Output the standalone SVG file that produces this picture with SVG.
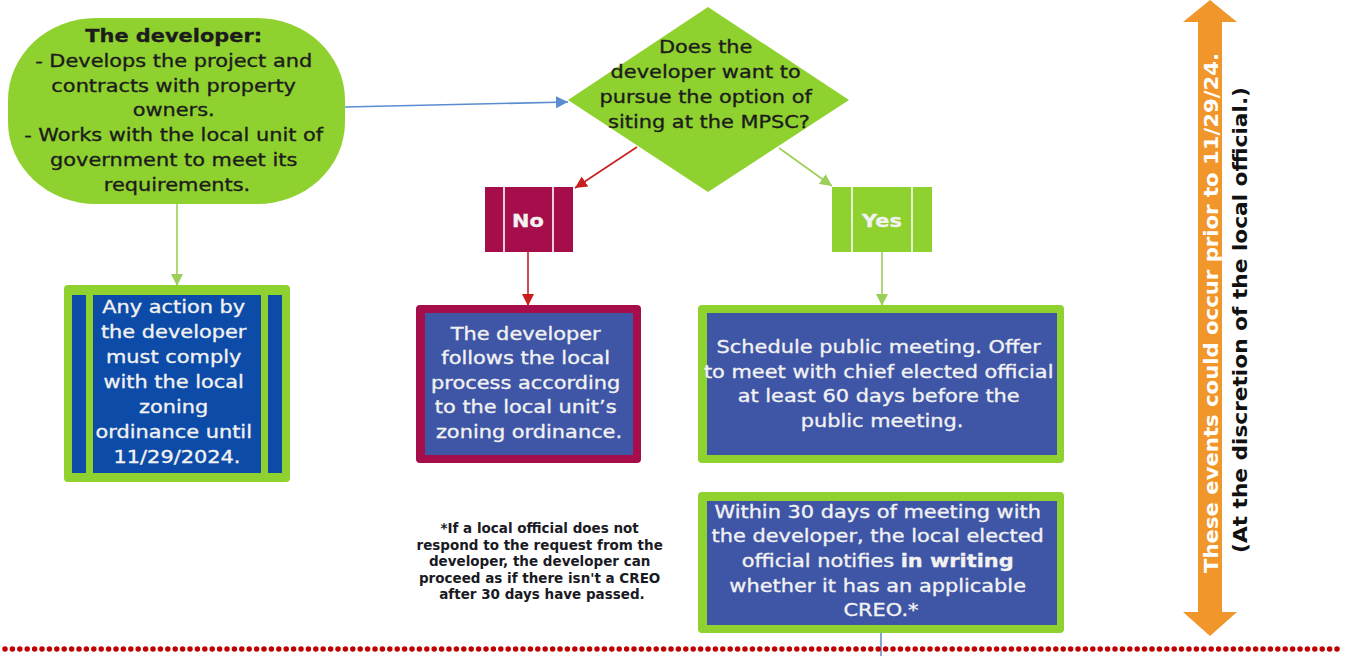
<svg xmlns="http://www.w3.org/2000/svg" width="1345" height="656" viewBox="0 0 1345 656">
  <style>
    .lime { fill: #8fd12e; }
    .blue { fill: #3f56a6; }
    .deep { fill: #0c4ba7; }
    .crim { fill: #a60e4b; }
    .txt { font-family: "DejaVu Sans", Verdana, sans-serif; font-size: 18.5px; text-anchor: middle; stroke-width: 0.35px; }
    .dark { fill: #1c1c1c; stroke: #1c1c1c; }
    .light { fill: #f2f2f2; stroke: #f2f2f2; }
    .b { font-weight: bold; }
    .note { font-family: "DejaVu Sans", Tahoma, sans-serif; font-size: 13.5px; font-weight: bold; text-anchor: middle; fill: #1a1a24; }
    .stripe { stroke: #ffffff; stroke-width: 1.6; }
    .conn { fill: none; stroke-width: 1.6; }
  </style>
  <defs>
    <marker id="ahBlue" markerUnits="userSpaceOnUse" markerWidth="12" markerHeight="12" refX="12" refY="6" orient="auto">
      <path d="M0,0 L12,6 L0,12 z" fill="#5a8cd0"/>
    </marker>
    <marker id="ahRed" markerUnits="userSpaceOnUse" markerWidth="12" markerHeight="12" refX="12" refY="6" orient="auto">
      <path d="M0,0 L12,6 L0,12 z" fill="#c81e1e"/>
    </marker>
    <marker id="ahGreen" markerUnits="userSpaceOnUse" markerWidth="12" markerHeight="12" refX="12" refY="6" orient="auto">
      <path d="M0,0 L12,6 L0,12 z" fill="#9ccf5a"/>
    </marker>
  </defs>

  <rect width="1345" height="656" fill="#ffffff"/>

  <!-- connectors -->
  <g id="connectors">
    <line class="conn" x1="345" y1="107" x2="568" y2="102" stroke="#5a8cd0" marker-end="url(#ahBlue)"/>
    <line class="conn" x1="177" y1="204" x2="177" y2="286" stroke="#9ccf5a" marker-end="url(#ahGreen)"/>
    <line class="conn" x1="637" y1="147" x2="575" y2="188" stroke="#c81e1e" marker-end="url(#ahRed)"/>
    <line class="conn" x1="779" y1="148" x2="832" y2="186" stroke="#9ccf5a" marker-end="url(#ahGreen)"/>
    <line class="conn" x1="528" y1="252" x2="528" y2="306" stroke="#c81e1e" marker-end="url(#ahRed)"/>
    <line class="conn" x1="882" y1="252" x2="882" y2="306" stroke="#9ccf5a" marker-end="url(#ahGreen)"/>
    <line class="conn" x1="881" y1="633" x2="881" y2="656" stroke="#6c8ebf" stroke-width="1.2"/>
  </g>

  <!-- developer start node -->
  <g id="developer">
    <rect class="lime" x="8" y="18" width="337" height="186" rx="88" ry="82"/>
    <text class="txt dark" transform="translate(177 0) scale(1.13 1)">
      <tspan class="b" x="0" y="42">The developer:</tspan>
      <tspan x="0" y="66.8">- Develops the project and</tspan>
      <tspan x="0" y="91.6">contracts with property</tspan>
      <tspan x="0" y="116.4">owners.</tspan>
      <tspan x="0" y="141.2">- Works with the local unit of</tspan>
      <tspan x="0" y="166">government to meet its</tspan>
      <tspan x="0" y="190.8">requirements.</tspan>
    </text>
  </g>

  <!-- decision -->
  <g id="decision">
    <polygon class="lime" points="708,7 849,100 708,192 568,100"/>
    <text class="txt dark" transform="translate(709 0) scale(1.13 1)">
      <tspan x="0" y="53">Does the</tspan>
      <tspan x="0" y="78">developer want to</tspan>
      <tspan x="0" y="103">pursue the option of</tspan>
      <tspan x="0" y="128">siting at the MPSC?</tspan>
    </text>
  </g>

  <!-- local zoning compliance -->
  <g id="comply">
    <rect class="lime" x="64" y="285" width="226" height="197" rx="4"/>
    <rect class="deep" x="72" y="295" width="14" height="178"/>
    <rect class="deep" x="93" y="295" width="168" height="178"/>
    <rect class="deep" x="268" y="295" width="14" height="178"/>
    <text class="txt light" transform="translate(177 0) scale(1.13 1)">
      <tspan x="0" y="313">Any action by</tspan>
      <tspan x="0" y="338">the developer</tspan>
      <tspan x="0" y="363">must comply</tspan>
      <tspan x="0" y="388">with the local</tspan>
      <tspan x="0" y="413">zoning</tspan>
      <tspan x="0" y="438">ordinance until</tspan>
      <tspan x="0" y="463">11/29/2024.</tspan>
    </text>
  </g>

  <!-- No branch -->
  <g id="no">
    <rect class="crim" x="485" y="187" width="88" height="65"/>
    <line class="stripe" x1="504" y1="187" x2="504" y2="252"/>
    <line class="stripe" x1="553" y1="187" x2="553" y2="252"/>
    <text class="txt light b" transform="translate(528 0) scale(1.13 1)" x="0" y="227">No</text>
  </g>

  <g id="local-process">
    <rect class="crim" x="416" y="305" width="225" height="158" rx="4"/>
    <rect class="blue" x="425" y="313" width="208" height="142"/>
    <text class="txt light" transform="translate(529 0) scale(1.13 1)">
      <tspan x="0" y="340">The developer</tspan>
      <tspan x="0" y="364.5">follows the local</tspan>
      <tspan x="0" y="389">process according</tspan>
      <tspan x="0" y="413.5">to the local unit’s</tspan>
      <tspan x="0" y="438">zoning ordinance.</tspan>
    </text>
  </g>

  <!-- Yes branch -->
  <g id="yes">
    <rect class="lime" x="832" y="187" width="100" height="65"/>
    <line class="stripe" x1="852" y1="187" x2="852" y2="252"/>
    <line class="stripe" x1="912" y1="187" x2="912" y2="252"/>
    <text class="txt light b" transform="translate(882 0) scale(1.13 1)" x="0" y="227">Yes</text>
  </g>

  <g id="schedule">
    <rect class="lime" x="698" y="305" width="366" height="158" rx="4"/>
    <rect class="blue" x="707" y="313" width="350" height="142"/>
    <text class="txt light" transform="translate(882 0) scale(1.13 1)">
      <tspan x="0" y="353">Schedule public meeting. Offer</tspan>
      <tspan x="0" y="377.7">to meet with chief elected official</tspan>
      <tspan x="0" y="402.4">at least 60 days before the</tspan>
      <tspan x="0" y="427">public meeting.</tspan>
    </text>
  </g>

  <g id="notify">
    <rect class="lime" x="698" y="492" width="366" height="141" rx="4"/>
    <rect class="blue" x="707" y="501" width="350" height="124"/>
    <text class="txt light" transform="translate(881 0) scale(1.13 1)">
      <tspan x="0" y="518">Within 30 days of meeting with</tspan>
      <tspan x="0" y="542.5">the developer, the local elected</tspan>
      <tspan x="0" y="567">official notifies <tspan class="b">in writing</tspan></tspan>
      <tspan x="0" y="592">whether it has an applicable</tspan>
      <tspan x="0" y="616.5">CREO.*</tspan>
    </text>
  </g>

  <!-- footnote -->
  <g id="footnote">
    <text class="note">
      <tspan x="542" y="533">*If a local official does not</tspan>
      <tspan x="542" y="549.6">respond to the request from the</tspan>
      <tspan x="542" y="566.2">developer, the developer can</tspan>
      <tspan x="542" y="582.8">proceed as if there isn't a CREO</tspan>
      <tspan x="542" y="599.4">after 30 days have passed.</tspan>
    </text>
  </g>

  <!-- timing span arrow -->
  <g id="timing">
    <polygon fill="#f0962a" points="1210,0 1237,22 1222,22 1222,612 1237,612 1210,636 1183,612 1198,612 1198,22 1183,22"/>
    <text transform="translate(1218 313) rotate(-90)" x="0" y="0" text-anchor="middle" font-family="DejaVu Sans, Verdana, sans-serif" font-size="20" font-weight="bold" fill="#ffffff" textLength="520" lengthAdjust="spacingAndGlyphs">These events could occur prior to 11/29/24.</text>
    <text transform="translate(1247 320) rotate(-90)" x="0" y="0" text-anchor="middle" font-family="DejaVu Sans, Verdana, sans-serif" font-size="20" font-weight="bold" fill="#111111" textLength="466" lengthAdjust="spacingAndGlyphs">(At the discretion of the local official.)</text>
  </g>

  <!-- dotted divider -->
  <g id="divider">
    <line x1="5" y1="649" x2="1340" y2="649" stroke="#c00000" stroke-width="5.5" stroke-linecap="round" stroke-dasharray="0 7.4"/>
  </g>
</svg>
